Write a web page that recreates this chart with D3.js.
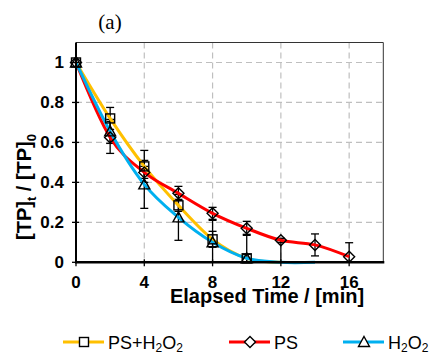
<!DOCTYPE html>
<html><head><meta charset="utf-8">
<script src="https://cdn.jsdelivr.net/npm/d3@7"></script>
<style>body{margin:0;background:#fff}svg{display:block}</style>
</head><body><svg id="c" width="429" height="353"></svg>
<script>
const times = [0, 2, 4, 6, 8, 10, 12, 14, 16];
const xTicks = [0, 4, 8, 12, 16];
const yTicks = [0, 0.2, 0.4, 0.6, 0.8, 1];
const yTickLabels = ["0", "0.2", "0.4", "0.6", "0.8", "1"];
// values (null = no point)
const psH2o2 = [1, 0.72, 0.48, 0.285, 0.115, 0.02, 0, null, null];
const psH2o2Err = [0, 0.055, 0.08, 0.03, 0.04, 0.02, 0, null, null];
const psH2o2Marker = [true, true, true, true, true, true, false, false, false];
const ps = [1, 0.625, 0.45, 0.345, 0.245, 0.17, 0.11, 0.087, 0.028];
const psErr = [0, 0.08, 0.03, 0.035, 0.03, 0.035, 0.01, 0.055, 0.07];
const psMarker = [true, true, true, true, true, true, true, true, true];
const h2o2 = [1, 0.655, 0.39, 0.225, 0.1, 0.02, 0, 0, null];
const h2o2Err = [0, 0.06, 0.12, 0.115, 0.11, 0.12, 0.11, 0, null];
const h2o2Marker = [true, true, true, true, true, true, false, false, false];

const svg = d3.select("#c");
const L = 76, R = 383.3, T = 42.5, B = 262.3;
const x = d3.scaleLinear().domain([0, 18]).range([L, R]);
const y = d3.scaleLinear().domain([0, 1.1]).range([B, T]);

// grid
const g = svg.append("g");
g.selectAll(".hg").data(yTicks.filter(d => d > 0)).join("line")
  .attr("x1", L).attr("x2", R).attr("y1", d => y(d)).attr("y2", d => y(d))
  .attr("stroke", "#bfbfbf").attr("stroke-width", 1.2).attr("stroke-dasharray", "6,4");
g.selectAll(".vg").data(xTicks.filter(d => d > 0)).join("line")
  .attr("y1", T).attr("y2", B).attr("x1", d => x(d)).attr("x2", d => x(d))
  .attr("stroke", "#bfbfbf").attr("stroke-width", 1.2).attr("stroke-dasharray", "6,4");
// border top/right
svg.append("path").attr("d", `M${L},${T}H${R}V${B}`).attr("fill", "none")
  .attr("stroke", "#333").attr("stroke-width", 1);

const series = [
  {v: psH2o2, e: psH2o2Err, m: psH2o2Marker, color: "#ffc000", sym: "square"},
  {v: ps, e: psErr, m: psMarker, color: "#ff0000", sym: "diamond"},
  {v: h2o2, e: h2o2Err, m: h2o2Marker, color: "#00b0f0", sym: "triangle"}
];

// error bars
const eg = svg.append("g").attr("stroke", "#000").attr("stroke-width", 1.3);
series.forEach(s => {
  times.forEach((t, i) => {
    if (s.v[i] == null || !s.e[i]) return;
    const hi = s.v[i] + s.e[i], lo = Math.max(0, s.v[i] - s.e[i]);
    eg.append("line").attr("x1", x(t)).attr("x2", x(t)).attr("y1", y(hi)).attr("y2", y(lo));
    eg.append("line").attr("x1", x(t) - 4).attr("x2", x(t) + 4).attr("y1", y(hi)).attr("y2", y(hi));
    if (s.v[i] - s.e[i] > 0)
      eg.append("line").attr("x1", x(t) - 4).attr("x2", x(t) + 4).attr("y1", y(lo)).attr("y2", y(lo));
  });
});

const line = d3.line().defined(d => d[1] != null)
  .x(d => x(d[0])).y(d => y(d[1])).curve(d3.curveCatmullRom.alpha(0));

function marker(sel, sym, size) {
  const h = size / 2;
  if (sym === "square") sel.append("rect").attr("x", -h).attr("y", -h).attr("width", size).attr("height", size);
  else if (sym === "diamond") sel.append("path").attr("d", `M0,${-h - 1}L${h + 1},0L0,${h + 1}L${-h - 1},0Z`);
  else sel.append("path").attr("d", `M0,${-h - 1}L${h + 1},${h}L${-h - 1},${h}Z`);
}

series.forEach(s => {
  const pts = times.map((t, i) => [t, s.v[i]]).filter(d => d[1] != null);
  svg.append("path").attr("d", line(pts)).attr("fill", "none")
    .attr("stroke", s.color).attr("stroke-width", 3);
});
series.forEach(s => {
  times.forEach((t, i) => {
    if (s.v[i] == null || !s.m[i]) return;
    const mg = svg.append("g").attr("transform", `translate(${x(t)},${y(s.v[i])})`)
      .attr("fill", "none").attr("stroke", "#000").attr("stroke-width", 1.4);
    marker(mg, s.sym, 9);
  });
});

// axes
const ax = svg.append("g");
ax.append("line").attr("x1", L).attr("x2", L).attr("y1", T).attr("y2", B + 1)
  .attr("stroke", "#000").attr("stroke-width", 2);
ax.append("line").attr("x1", L - 1).attr("x2", R + 1).attr("y1", B).attr("y2", B)
  .attr("stroke", "#000").attr("stroke-width", 2.5);
ax.selectAll(".yt").data(yTicks).join("line")
  .attr("x1", L - 4).attr("x2", L + 3).attr("y1", d => y(d)).attr("y2", d => y(d))
  .attr("stroke", "#000").attr("stroke-width", 1.3);
ax.selectAll(".xt").data(xTicks).join("line")
  .attr("x1", d => x(d)).attr("x2", d => x(d)).attr("y1", B - 3).attr("y2", B + 4)
  .attr("stroke", "#000").attr("stroke-width", 1.3);

const font = "'Liberation Sans', Arial, sans-serif";
ax.selectAll(".yl").data(yTicks).join("text")
  .attr("x", 64).attr("y", d => y(d) + 6).attr("text-anchor", "end")
  .attr("font-family", font).attr("font-weight", "bold").attr("font-size", 17)
  .text((d, i) => yTickLabels[i]);
ax.selectAll(".xl").data(xTicks).join("text")
  .attr("x", d => x(d)).attr("y", 288).attr("text-anchor", "middle")
  .attr("font-family", font).attr("font-weight", "bold").attr("font-size", 17)
  .text(d => d);

svg.append("text").attr("x", 267).attr("y", 303).attr("text-anchor", "middle")
  .attr("font-family", font).attr("font-weight", "bold").attr("font-size", 20)
  .text("Elapsed Time / [min]");

const yt = svg.append("text").attr("transform", "translate(31,187) rotate(-90)")
  .attr("text-anchor", "middle").attr("font-family", font).attr("font-weight", "bold").attr("font-size", 20);
yt.append("tspan").text("[TP]");
yt.append("tspan").attr("font-size", 13).attr("dy", 5).text("t");
yt.append("tspan").attr("dy", -5).text(" / [TP]");
yt.append("tspan").attr("font-size", 13).attr("dy", 5).text("0");

svg.append("text").attr("x", 110).attr("y", 29).attr("text-anchor", "middle")
  .attr("font-family", "'Liberation Serif', 'Times New Roman', serif").attr("font-size", 21).text("(a)");

// legend
const legend = [
  {s: series[0], x0: 63, label: ["PS+H", "2", "O", "2"]},
  {s: series[1], x0: 229, label: ["PS"]},
  {s: series[2], x0: 343, label: ["H", "2", "O", "2"]}
];
legend.forEach(l => {
  const lg = svg.append("g").attr("transform", `translate(${l.x0},342)`);
  lg.append("line").attr("x1", 0).attr("x2", 41).attr("stroke", l.s.color).attr("stroke-width", 3);
  const mg = lg.append("g").attr("transform", "translate(21,0)").attr("fill", "#fff")
    .attr("stroke", "#000").attr("stroke-width", 1.4);
  marker(mg, l.s.sym, 9);
  const t = lg.append("text").attr("x", 45).attr("y", 6.5).attr("font-family", font).attr("font-size", 18);
  l.label.forEach((p, i) => {
    const sub = i % 2 === 1;
    t.append("tspan").attr("font-size", sub ? 12 : 18).attr("dy", sub ? 3 : (i > 0 ? -3 : 0)).text(p);
  });
});
</script></body></html>
